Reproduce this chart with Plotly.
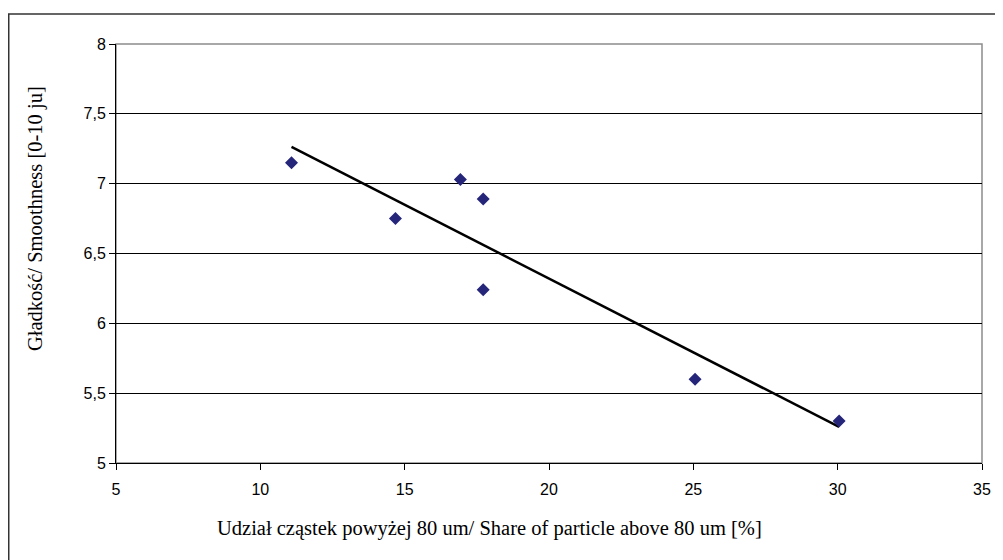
import numpy as np
import plotly.graph_objects as go

# Data
share_above_80um = [11.08, 14.68, 16.93, 17.72, 17.72, 25.06, 30.05]
smoothness = [7.15, 6.75, 7.03, 6.89, 6.24, 5.60, 5.30]

x_ticks = [5, 10, 15, 20, 25, 30, 35]
y_ticks = [5, 5.5, 6, 6.5, 7, 7.5, 8]
y_tick_labels = ["5", "5,5", "6", "6,5", "7", "7,5", "8"]

x_title = "Udział cząstek powyżej 80 um/ Share of particle above 80 um [%]"
y_title = "Gładkość/ Smoothness [0-10 ju]"

# Linear trend line (least squares), spanning data range
slope, intercept = np.polyfit(share_above_80um, smoothness, 1)
trend_x = [min(share_above_80um), max(share_above_80um)]
trend_y = [slope * v + intercept for v in trend_x]

fig = go.Figure()
fig.add_trace(go.Scatter(
    x=trend_x, y=trend_y, mode="lines",
    line=dict(color="black", width=2.5), showlegend=False, hoverinfo="skip"))
fig.add_trace(go.Scatter(
    x=share_above_80um, y=smoothness, mode="markers",
    marker=dict(symbol="diamond", size=10, color="#25257A"),
    showlegend=False))

# page body has an 8px margin, so work in figure coordinates = viewport - 8
OFF = 8
W, H = 1003 - OFF, 560 - OFF
L, T = 116 - OFF, 44 - OFF
R = W - (988 - OFF)
B = H - (463 - OFF)
pw, ph = W - L - R, H - T - B

def px_x(p):
    return (p - OFF - L) / pw

def px_y(p):
    return (H - B - (p - OFF)) / ph

tick_font = dict(family="Liberation Sans, Arial", size=16, color="black")
title_font = dict(family="Liberation Serif, Times New Roman", size=20.5, color="black")

fig.update_layout(
    width=W, height=H,
    margin=dict(l=L, r=R, t=T, b=B),
    paper_bgcolor="white", plot_bgcolor="white",
    font=tick_font,
    xaxis=dict(range=[5, 35], tickvals=x_ticks, ticktext=[str(v) for v in x_ticks],
               showgrid=False, zeroline=False, showline=True, linecolor="black",
               linewidth=1, ticks="outside", ticklen=6, tickcolor="black",
               ticklabelstandoff=6, tickfont=tick_font),
    yaxis=dict(range=[5, 8], tickvals=y_ticks, ticktext=y_tick_labels,
               showgrid=True, gridcolor="black", gridwidth=1, zeroline=False,
               showline=True, linecolor="black", linewidth=1,
               ticks="outside", ticklen=6, tickcolor="black",
               tickfont=tick_font),
    shapes=[
        # plot area border (grey)
        dict(type="rect", xref="paper", yref="paper", x0=0, y0=0, x1=1, y1=1,
             line=dict(color="#8c8c8c", width=1.5), layer="below"),
        # outer chart frame
        dict(type="rect", xref="paper", yref="paper",
             x0=px_x(8), x1=px_x(1015), y0=px_y(580), y1=px_y(14),
             line=dict(color="#333333", width=1.5)),
    ],
    annotations=[
        dict(text=x_title, xref="paper", yref="paper", x=px_x(492), y=px_y(528),
             xanchor="center", yanchor="middle", showarrow=False, font=title_font),
        dict(text=y_title, xref="paper", yref="paper", x=px_x(35), y=px_y(353),
             xanchor="center", yanchor="bottom", textangle=-90, showarrow=False,
             font=title_font),
    ],
)

fig.write_html("out.html")
